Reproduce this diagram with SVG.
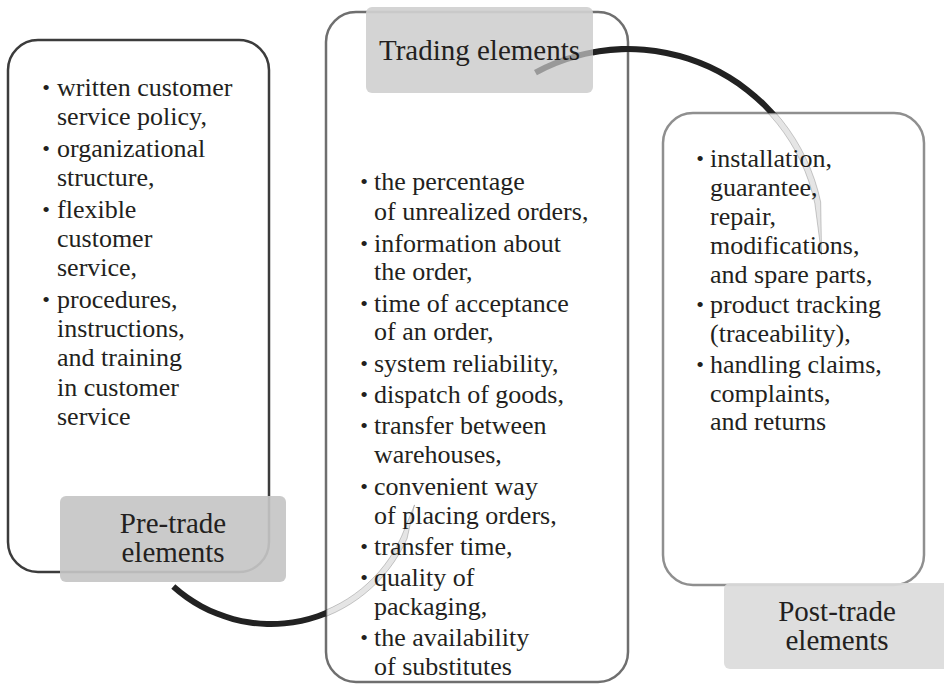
<svg xmlns="http://www.w3.org/2000/svg" width="944" height="684" viewBox="0 0 944 684">
<style>
.box{fill:#fff;stroke-width:2.5}
.t{font-family:"Liberation Serif","Times New Roman",serif;font-size:26px;fill:#231f20}
.b{font-family:"Liberation Serif","Times New Roman",serif;font-size:22px;fill:#231f20;text-anchor:middle}
.lbl{font-family:"Liberation Serif","Times New Roman",serif;font-size:29px;fill:#231f20;text-anchor:middle}
.arcBlack{fill:#222}
.arcLight{fill:#000;fill-opacity:0.1;stroke:#000;stroke-opacity:0.22;stroke-width:0.9}
</style>
<defs>
<clipPath id="cTradeLbl"><rect x="366" y="7" width="227" height="86" rx="6"/></clipPath>
<clipPath id="cPostBox"><rect x="663" y="113" width="261" height="472" rx="30"/></clipPath>
<clipPath id="cTopOut"><path clip-rule="evenodd" d="M0,0H944V684H0Z M366,7h227v86h-227Z M663,113h261v472h-261Z"/></clipPath>
<clipPath id="cMidBox"><rect x="326" y="12" width="302" height="670" rx="30"/></clipPath>
<clipPath id="cBotOut"><path clip-rule="evenodd" d="M0,0H944V684H0Z M326,12h302v670h-302Z"/></clipPath>
<path id="arcTop" d="M534.0,69.9 A197,197 0 0 1 820.7,202.0 L821.6,254.8 L814.8,203.3 A191,191 0 0 0 536.9,75.2 Z"/>
<path id="arcBot" d="M171.3,588.7 A149,149 0 0 0 407.1,538.6 L414.5,504.9 L401.6,536.2 A143,143 0 0 1 175.3,584.3 Z"/>
</defs>
<rect width="944" height="684" fill="#fff"/>

<g id="pre-trade">
<rect class="box" x="8" y="40" width="261" height="532" rx="30" stroke="#3c3c3c"/>
<text class="b" x="46" y="95">•</text>
<text class="t" x="57" y="96">written customer</text>
<text class="t" x="57" y="125">service policy,</text>
<text class="b" x="46" y="156">•</text>
<text class="t" x="57" y="157">organizational</text>
<text class="t" x="57" y="186">structure,</text>
<text class="b" x="46" y="217">•</text>
<text class="t" x="57" y="218">flexible</text>
<text class="t" x="57" y="247">customer</text>
<text class="t" x="57" y="276">service,</text>
<text class="b" x="46" y="307">•</text>
<text class="t" x="57" y="308">procedures,</text>
<text class="t" x="57" y="337">instructions,</text>
<text class="t" x="57" y="366">and training</text>
<text class="t" x="57" y="396">in customer</text>
<text class="t" x="57" y="425">service</text>
<rect x="60" y="496" width="226" height="86" rx="6" fill="#c6c6c6" fill-opacity="0.92"/>
<text class="lbl" x="173" y="533">Pre-trade</text>
<text class="lbl" x="173" y="562">elements</text>
</g>

<g id="trading">
<rect class="box" x="326" y="12" width="302" height="670" rx="30" stroke="#6f6f6f"/>
<text class="b" x="364" y="189">•</text>
<text class="t" x="374" y="190">the percentage</text>
<text class="t" x="374" y="220">of unrealized orders,</text>
<text class="b" x="364" y="251">•</text>
<text class="t" x="374" y="252">information about</text>
<text class="t" x="374" y="280">the order,</text>
<text class="b" x="364" y="311">•</text>
<text class="t" x="374" y="312">time of acceptance</text>
<text class="t" x="374" y="340">of an order,</text>
<text class="b" x="364" y="371">•</text>
<text class="t" x="374" y="372">system reliability,</text>
<text class="b" x="364" y="402">•</text>
<text class="t" x="374" y="403">dispatch of goods,</text>
<text class="b" x="364" y="433">•</text>
<text class="t" x="374" y="434">transfer between</text>
<text class="t" x="374" y="463">warehouses,</text>
<text class="b" x="364" y="494">•</text>
<text class="t" x="374" y="495">convenient way</text>
<text class="t" x="374" y="524">of placing orders,</text>
<text class="b" x="364" y="554">•</text>
<text class="t" x="374" y="555">transfer time,</text>
<text class="b" x="364" y="585">•</text>
<text class="t" x="374" y="586">quality of</text>
<text class="t" x="374" y="615">packaging,</text>
<text class="b" x="364" y="645">•</text>
<text class="t" x="374" y="646">the availability</text>
<text class="t" x="374" y="675">of substitutes</text>
<rect x="366" y="7" width="227" height="86" rx="6" fill="#d0d0d0" fill-opacity="0.92"/>
<text class="lbl" x="479.5" y="60">Trading elements</text>
</g>

<g id="post-trade">
<rect class="box" x="663" y="113" width="261" height="472" rx="30" stroke="#8f8f8f"/>
<text class="b" x="700" y="166">•</text>
<text class="t" x="710" y="167">installation,</text>
<text class="t" x="710" y="196">guarantee,</text>
<text class="t" x="710" y="225">repair,</text>
<text class="t" x="710" y="254">modifications,</text>
<text class="t" x="710" y="283">and spare parts,</text>
<text class="b" x="700" y="312">•</text>
<text class="t" x="710" y="313">product tracking</text>
<text class="t" x="710" y="342">(traceability),</text>
<text class="b" x="700" y="372">•</text>
<text class="t" x="710" y="373">handling claims,</text>
<text class="t" x="710" y="402">complaints,</text>
<text class="t" x="710" y="430">and returns</text>
<rect x="724" y="583" width="226" height="86" rx="6" fill="#dbdbdb" fill-opacity="0.92"/>
<text class="lbl" x="837" y="621">Post-trade</text>
<text class="lbl" x="837" y="650">elements</text>
</g>

<g id="connectors">
<use href="#arcBot" class="arcBlack" clip-path="url(#cBotOut)"/>
<use href="#arcBot" class="arcLight" clip-path="url(#cMidBox)"/>
<use href="#arcTop" class="arcBlack" clip-path="url(#cTopOut)"/>
<use href="#arcTop" fill="#000" fill-opacity="0.28" clip-path="url(#cTradeLbl)"/>
<use href="#arcTop" class="arcLight" clip-path="url(#cPostBox)"/>
</g>
</svg>
